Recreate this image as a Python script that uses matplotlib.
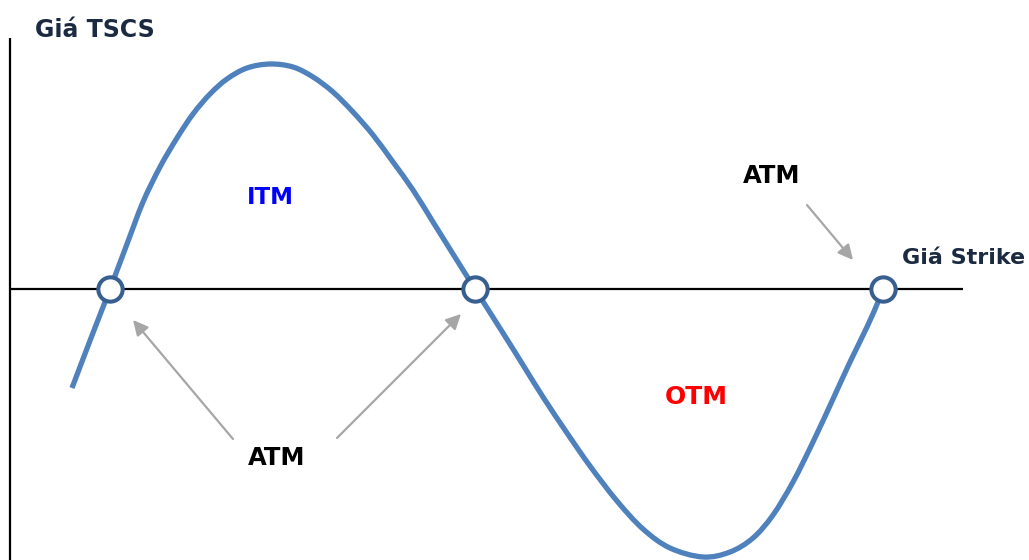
import numpy as np
import matplotlib.pyplot as plt
from matplotlib.path import Path
from matplotlib.patches import PathPatch

plt.rcParams['font.family'] = ['DejaVu Sans']

# curve (x, height above the strike axis)
curve_x = [72, 91, 110, 127, 143, 160, 177, 193, 210, 227, 247, 270, 293, 313, 333,
           353, 373, 393, 413, 433, 453, 475, 503, 523, 543, 567, 590, 617, 643,
           670, 703, 730, 753, 773, 793, 813, 833, 850, 867, 878, 883]
curve_y = [-99, -49, 0, 45, 87, 122, 151, 175, 195, 210, 221, 225, 222, 212, 197,
           177, 154, 127, 99, 67, 35, 0, -44, -76, -108, -144, -177, -212, -240,
           -259, -268, -263, -249, -226, -193, -153, -110, -73, -38, -13, 0]

# ATM points on the strike axis
atm_x = [110, 475, 883]
atm_y = [0, 0, 0]

line_blue = '#4F81BD'
ring_blue = '#375F8F'
grey = '#A6A6A6'
navy = '#1B2A41'

fig = plt.figure(figsize=(10.29, 5.6), dpi=100)
ax = fig.add_axes([0, 0, 1, 1])
ax.set_xlim(0, 1029)
ax.set_ylim(-271, 289)
ax.axis('off')

# axes
ax.plot([10, 10], [251, -271], color='black', lw=1.6, solid_capstyle='butt')
ax.plot([10, 963], [0, 0], color='black', lw=1.6, solid_capstyle='butt')

# smoothed line through the read points (bezier segments)
pts = np.column_stack([curve_x, curve_y]).astype(float)
ext = np.vstack([pts[0], pts, pts[-1]])
verts = [pts[0]]
codes = [Path.MOVETO]
for i in range(1, len(ext) - 2):
    c1 = ext[i] + (ext[i + 1] - ext[i - 1]) / 6
    c2 = ext[i + 1] - (ext[i + 2] - ext[i]) / 6
    verts += [c1, c2, ext[i + 1]]
    codes += [Path.CURVE4] * 3
ax.add_patch(PathPatch(Path(verts, codes), fill=False, edgecolor=line_blue,
                       lw=3.8, capstyle='butt', zorder=3))
ax.plot(atm_x, atm_y, 'o', ms=17.5, mfc='white', mec=ring_blue, mew=2.9, zorder=4)

# arrows
arrow_style = dict(arrowstyle='-|>,head_length=0.9,head_width=0.45', color=grey,
                   lw=1.6, shrinkA=0, shrinkB=0)
ax.annotate('', xy=(133, -31), xytext=(233, -150), arrowprops=arrow_style)
ax.annotate('', xy=(461, -25), xytext=(337, -149), arrowprops=arrow_style)
ax.annotate('', xy=(853, 29), xytext=(807, 84), arrowprops=arrow_style)

# labels
ax.text(35, 259, 'Giá TSCS', fontsize=17, fontweight='bold', color=navy,
        ha='left', va='center')
ax.text(1025, 31, 'Giá Strike', fontsize=16, fontweight='bold', color=navy,
        ha='right', va='center')
ax.text(270, 92, 'ITM', fontsize=16.5, fontweight='bold', color='#0000FF',
        ha='center', va='center')
ax.text(696, -108, 'OTM', fontsize=18, fontweight='bold', color='#FF0000',
        ha='center', va='center')
ax.text(772, 113, 'ATM', fontsize=17.5, fontweight='bold', color='black',
        ha='center', va='center')
ax.text(277, -169, 'ATM', fontsize=17.5, fontweight='bold', color='black',
        ha='center', va='center')

fig.savefig('out.png', dpi=100)
